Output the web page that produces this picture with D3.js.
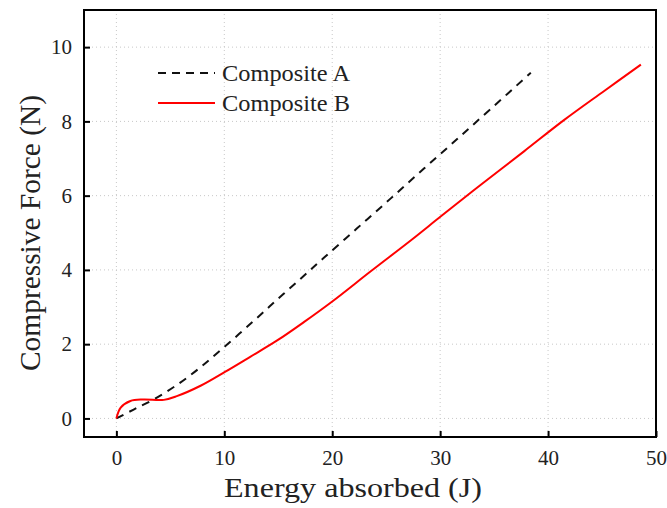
<!DOCTYPE html>
<html>
<head>
<meta charset="utf-8">
<script src="https://cdn.jsdelivr.net/npm/d3@7"></script>
</head>
<body style="margin:0; background:#fff">
<div id="chart"></div>
<script>
// values
var seriesNames = ["Composite A", "Composite B"];
var energyA = [0, 1.6, 3.5, 5.6, 7.8, 10.1, 12.7, 14.9, 17.1, 19.2, 22.3, 25.4, 28.5, 31.6, 34.7, 38.4];
var forceA  = [0, 0.24, 0.52, 0.90, 1.38, 1.95, 2.62, 3.20, 3.77, 4.32, 5.12, 5.92, 6.73, 7.53, 8.34, 9.31];
var energyB = [0, 0.4, 1.3, 2.5, 4.4, 5.6, 7.8, 10.1, 12.4, 14.9, 17.4, 20.0, 23.6, 27.3, 30.1, 33.8, 37.8, 41.5, 45.2, 48.6];
var forceB  = [0, 0.29, 0.47, 0.51, 0.50, 0.60, 0.88, 1.26, 1.66, 2.10, 2.60, 3.15, 3.97, 4.80, 5.45, 6.30, 7.20, 8.04, 8.82, 9.53];
var xTicks = [0, 10, 20, 30, 40, 50];
var yTicks = [0, 2, 4, 6, 8, 10];

var FONT = "'Liberation Serif', monospace";
var W = 667, H = 508;
var margin = {top: 10, right: 11, bottom: 71, left: 84},
    width = W - margin.left - margin.right,
    height = H - margin.top - margin.bottom;

var root = d3.select("#chart")
  .append("svg")
    .attr("width", W)
    .attr("height", H);
var svg = root.append("g")
    .attr("transform", "translate(" + margin.left + "," + margin.top + ")");

var x = d3.scaleLinear().domain([-3, 50]).range([0, width]);
var y = d3.scaleLinear().domain([-0.5, 11]).range([height, 0]);

// dotted grid
svg.append("g")
  .selectAll("line")
  .data(xTicks)
  .enter()
  .append("line")
    .attr("x1", function(d){ return x(d) }).attr("x2", function(d){ return x(d) })
    .attr("y1", 0).attr("y2", height)
    .attr("stroke", "#c8c8c8").attr("stroke-dasharray", "1,3");
svg.append("g")
  .selectAll("line")
  .data(yTicks)
  .enter()
  .append("line")
    .attr("y1", function(d){ return y(d) }).attr("y2", function(d){ return y(d) })
    .attr("x1", 0).attr("x2", width)
    .attr("stroke", "#c8c8c8").attr("stroke-dasharray", "1,3");

// axes with inward ticks
var xAxis = svg.append("g")
  .attr("transform", "translate(0," + height + ")")
  .call(d3.axisBottom(x).tickValues(xTicks).tickSize(-6).tickPadding(13));
var yAxis = svg.append("g")
  .call(d3.axisLeft(y).tickValues(yTicks).tickSize(-6).tickPadding(12));
[xAxis, yAxis].forEach(function(a){
  a.attr("font-family", FONT).attr("font-size", 21);
  a.select(".domain").remove();
  a.selectAll(".tick line").attr("stroke", "#000").attr("stroke-width", 2);
  a.selectAll("text")
    .style("font-family", FONT)
    .style("font-size", "21px")
    .attr("fill", "#222");
});

// frame
svg.append("rect")
  .attr("width", width).attr("height", height)
  .attr("fill", "none").attr("stroke", "#000").attr("stroke-width", 2);

var line = d3.line()
  .x(function(d){ return x(d[0]) })
  .y(function(d){ return y(d[1]) })
  .curve(d3.curveCatmullRom.alpha(0.5));

var dataA = energyA.map(function(e, i){ return [e, forceA[i]] });
var dataB = energyB.map(function(e, i){ return [e, forceB[i]] });

svg.append("path")
  .datum(dataA)
  .attr("d", line)
  .attr("fill", "none").attr("stroke", "#111").attr("stroke-width", 2)
  .attr("stroke-dasharray", "8,6.5");

svg.append("path")
  .datum(dataB)
  .attr("d", line)
  .attr("fill", "none").attr("stroke", "#ff0000").attr("stroke-width", 2);

// legend
var legend = svg.append("g").attr("transform", "translate(74,63)");
var styles = [{stroke: "#111", dash: "8,6"}, {stroke: "#ff0000", dash: null}];
seriesNames.forEach(function(name, i){
  var row = legend.append("g").attr("transform", "translate(0," + (i * 30) + ")");
  row.append("line")
    .attr("x1", 0).attr("x2", 57).attr("y1", 0).attr("y2", 0)
    .attr("stroke", styles[i].stroke).attr("stroke-width", 2)
    .attr("stroke-dasharray", styles[i].dash);
  row.append("text")
    .attr("x", 64).attr("y", 8)
    .attr("fill", "#222")
    .attr("textLength", 128)
    .attr("lengthAdjust", "spacingAndGlyphs")
    .style("font-family", FONT)
    .style("font-size", "23px")
    .text(name);
});

// axis titles
svg.append("text")
  .attr("x", 353 - margin.left)
  .attr("y", 497 - margin.top)
  .attr("text-anchor", "middle")
  .attr("fill", "#222")
  .attr("textLength", 258)
  .attr("lengthAdjust", "spacingAndGlyphs")
  .style("font-family", FONT)
  .style("font-size", "28px")
  .text("Energy absorbed (J)");

svg.append("text")
  .attr("transform", "translate(" + (40 - margin.left) + "," + (233 - margin.top) + ")rotate(-90)")
  .attr("text-anchor", "middle")
  .attr("fill", "#222")
  .attr("textLength", 276)
  .attr("lengthAdjust", "spacingAndGlyphs")
  .style("font-family", FONT)
  .style("font-size", "29px")
  .text("Compressive Force (N)");
</script>
</body>
</html>
